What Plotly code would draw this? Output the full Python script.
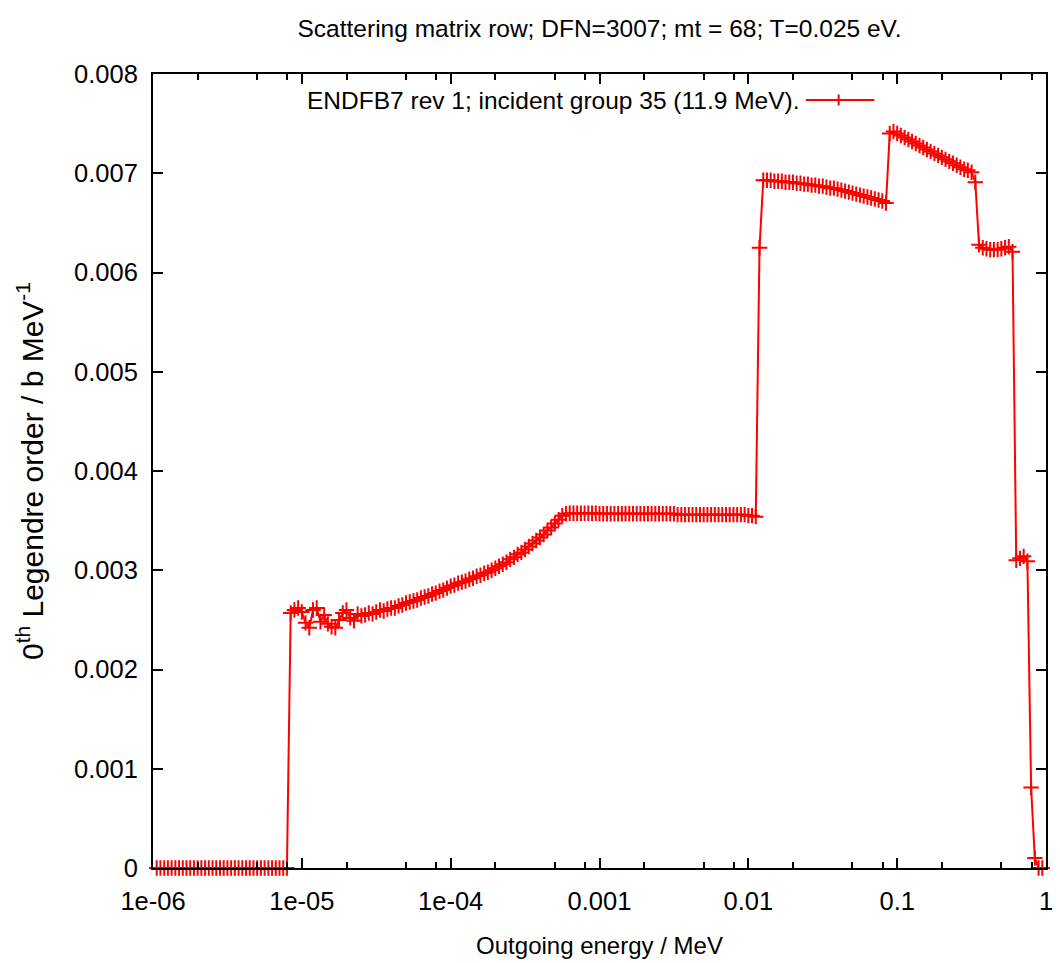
import plotly.graph_objects as go

# Outgoing energy grid (MeV), one list per decade
energy_1e6 = [1.059e-6, 1.122e-6, 1.189e-6, 1.259e-6, 1.334e-6, 1.413e-6, 1.496e-6, 1.585e-6,
              1.679e-6, 1.778e-6, 1.884e-6, 1.995e-6, 2.113e-6, 2.239e-6, 2.371e-6, 2.512e-6,
              2.661e-6, 2.818e-6, 2.985e-6, 3.162e-6, 3.350e-6, 3.548e-6, 3.758e-6, 3.981e-6,
              4.217e-6, 4.467e-6, 4.732e-6, 5.012e-6, 5.309e-6, 5.623e-6, 5.957e-6, 6.310e-6,
              6.683e-6, 7.079e-6, 7.499e-6, 7.943e-6, 8.414e-6, 8.913e-6, 9.441e-6]
energy_1e5 = [1.000e-5, 1.059e-5, 1.122e-5, 1.189e-5, 1.259e-5, 1.334e-5, 1.413e-5, 1.496e-5,
              1.585e-5, 1.679e-5, 1.778e-5, 1.884e-5, 1.995e-5, 2.113e-5, 2.239e-5, 2.371e-5,
              2.512e-5, 2.661e-5, 2.818e-5, 2.985e-5, 3.162e-5, 3.350e-5, 3.548e-5, 3.758e-5,
              3.981e-5, 4.217e-5, 4.467e-5, 4.732e-5, 5.012e-5, 5.309e-5, 5.623e-5, 5.957e-5,
              6.310e-5, 6.683e-5, 7.079e-5, 7.499e-5, 7.943e-5, 8.414e-5, 8.913e-5, 9.441e-5]
energy_1e4 = [1.000e-4, 1.059e-4, 1.122e-4, 1.189e-4, 1.259e-4, 1.334e-4, 1.413e-4, 1.496e-4,
              1.585e-4, 1.679e-4, 1.778e-4, 1.884e-4, 1.995e-4, 2.113e-4, 2.239e-4, 2.371e-4,
              2.512e-4, 2.661e-4, 2.818e-4, 2.985e-4, 3.162e-4, 3.350e-4, 3.548e-4, 3.758e-4,
              3.981e-4, 4.217e-4, 4.467e-4, 4.732e-4, 5.012e-4, 5.309e-4, 5.623e-4, 5.957e-4,
              6.310e-4, 6.683e-4, 7.079e-4, 7.499e-4, 7.943e-4, 8.414e-4, 8.913e-4, 9.441e-4]
energy_1e3 = [1.000e-3, 1.059e-3, 1.122e-3, 1.189e-3, 1.259e-3, 1.334e-3, 1.413e-3, 1.496e-3,
              1.585e-3, 1.679e-3, 1.778e-3, 1.884e-3, 1.995e-3, 2.113e-3, 2.239e-3, 2.371e-3,
              2.512e-3, 2.661e-3, 2.818e-3, 2.985e-3, 3.162e-3, 3.350e-3, 3.548e-3, 3.758e-3,
              3.981e-3, 4.217e-3, 4.467e-3, 4.732e-3, 5.012e-3, 5.309e-3, 5.623e-3, 5.957e-3,
              6.310e-3, 6.683e-3, 7.079e-3, 7.499e-3, 7.943e-3, 8.414e-3, 8.913e-3, 9.441e-3]
energy_1e2 = [1.000e-2, 1.059e-2, 1.122e-2, 1.189e-2, 1.259e-2, 1.334e-2, 1.413e-2, 1.496e-2,
              1.585e-2, 1.679e-2, 1.778e-2, 1.884e-2, 1.995e-2, 2.113e-2, 2.239e-2, 2.371e-2,
              2.512e-2, 2.661e-2, 2.818e-2, 2.985e-2, 3.162e-2, 3.350e-2, 3.548e-2, 3.758e-2,
              3.981e-2, 4.217e-2, 4.467e-2, 4.732e-2, 5.012e-2, 5.309e-2, 5.623e-2, 5.957e-2,
              6.310e-2, 6.683e-2, 7.079e-2, 7.499e-2, 7.943e-2, 8.414e-2, 8.913e-2, 9.441e-2]
energy_1e1 = [0.1000, 0.1059, 0.1122, 0.1189, 0.1259, 0.1334, 0.1413, 0.1496,
              0.1585, 0.1679, 0.1778, 0.1884, 0.1995, 0.2113, 0.2239, 0.2371,
              0.2512, 0.2661, 0.2818, 0.2985, 0.3162, 0.3350, 0.3548, 0.3758,
              0.3981, 0.4217, 0.4467, 0.4732, 0.5012, 0.5309, 0.5623, 0.5957,
              0.6310, 0.6683, 0.7079, 0.7499, 0.7943, 0.8414, 0.8913, 0.9441]

# 0th Legendre moment of the scattering row (b/MeV) at each grid energy
value_1e6 = [0, 0, 0, 0, 0, 0, 0, 0, 0, 0, 0, 0, 0, 0, 0, 0, 0, 0,
             0, 0, 0, 0, 0, 0, 0, 0, 0, 0, 0, 0, 0, 0, 0, 0, 0, 0,
             0.00257, 0.00260, 0.00262]
value_1e5 = [0.00258, 0.00247, 0.00242, 0.00260, 0.00262, 0.00248, 0.00255, 0.00246,
             0.00243, 0.00242, 0.00250, 0.00257, 0.00260, 0.00252, 0.00249, 0.00256,
             0.00254, 0.00255, 0.00257, 0.00256, 0.00258, 0.00260, 0.00259, 0.00261,
             0.00262, 0.00262, 0.00264, 0.00265, 0.00267, 0.00268, 0.00269, 0.00270,
             0.00272, 0.00273, 0.00274, 0.00276, 0.00277, 0.00279, 0.00280, 0.00282]
value_1e4 = [0.00284, 0.00285, 0.00287, 0.00288, 0.00289, 0.00291, 0.00292, 0.00294,
             0.00295, 0.00297, 0.00298, 0.00300, 0.00302, 0.00304, 0.00306, 0.00308,
             0.00311, 0.00313, 0.00316, 0.00318, 0.00321, 0.00324, 0.00327, 0.00330,
             0.00333, 0.00336, 0.00340, 0.00343, 0.00347, 0.00351, 0.00355, 0.00357,
             0.003575, 0.003575, 0.003575, 0.003575, 0.003575, 0.003575, 0.003575, 0.003575]
value_1e3 = [0.00357, 0.00357, 0.00357, 0.00357, 0.00357, 0.00357, 0.00357, 0.00357,
             0.00357, 0.00357, 0.00357, 0.00357, 0.00357, 0.00357, 0.00357, 0.00357,
             0.00357, 0.00357, 0.00357, 0.00357, 0.00357, 0.00356, 0.00356, 0.00356,
             0.00356, 0.00356, 0.00356, 0.00356, 0.00356, 0.00356, 0.00356, 0.00356,
             0.00356, 0.00356, 0.00356, 0.00356, 0.00356, 0.00356, 0.00356, 0.00356]
value_1e2 = [0.00355, 0.00355, 0.00354, 0.00625, 0.00693, 0.00693, 0.00693, 0.00692,
             0.00692, 0.00692, 0.00691, 0.00691, 0.00691, 0.00690, 0.00690, 0.00689,
             0.00689, 0.00688, 0.00688, 0.00687, 0.00687, 0.00686, 0.00685, 0.00685,
             0.00684, 0.00683, 0.00682, 0.00681, 0.00680, 0.00679, 0.00678, 0.00677,
             0.00676, 0.00675, 0.00674, 0.00673, 0.00672, 0.00670, 0.00740, 0.00742]
value_1e1 = [0.00740, 0.00738, 0.00736, 0.00734, 0.00732, 0.00730, 0.00728, 0.00726,
             0.00724, 0.00722, 0.00720, 0.00718, 0.00716, 0.00714, 0.00712, 0.00710,
             0.00708, 0.00706, 0.00704, 0.00703, 0.00701, 0.00691, 0.00628, 0.00625,
             0.00624, 0.00623, 0.00623, 0.00623, 0.00624, 0.00625, 0.00626, 0.00621,
             0.00310, 0.00312, 0.00314, 0.00309, 0.00081, 0.00010, 0.0, 0.0]

energy = energy_1e6 + energy_1e5 + energy_1e4 + energy_1e3 + energy_1e2 + energy_1e1
value = value_1e6 + value_1e5 + value_1e4 + value_1e3 + value_1e2 + value_1e1

x_tick_values = [1e-6, 1e-5, 1e-4, 1e-3, 1e-2, 1e-1, 1]
x_tick_labels = ["1e-06", "1e-05", "1e-04", "0.001", "0.01", "0.1", "1"]
x_minor_values = [2e-6, 5e-6, 8e-6, 2e-5, 5e-5, 8e-5, 2e-4, 5e-4, 8e-4,
                  2e-3, 5e-3, 8e-3, 2e-2, 5e-2, 8e-2, 0.2, 0.5, 0.8]
y_tick_values = [0, 0.001, 0.002, 0.003, 0.004, 0.005, 0.006, 0.007, 0.008]
y_tick_labels = ["0", "0.001", "0.002", "0.003", "0.004", "0.005", "0.006", "0.007", "0.008"]

series_name = "ENDFB7 rev 1; incident group 35 (11.9 MeV)."
title_text = "Scattering matrix row; DFN=3007; mt = 68; T=0.025 eV."

RED = "#ff0000"
FONT = "Liberation Sans, Arial, Helvetica, sans-serif"

W, H = 1060, 963
L, R, T, B = 153, 7, 74, 95

fig = go.Figure()
fig.add_trace(go.Scatter(
    x=energy, y=value, name=series_name, mode="lines+markers",
    line=dict(color=RED, width=2),
    marker=dict(symbol="cross-thin", size=11, color=RED, line=dict(color=RED, width=2)),
    cliponaxis=False, showlegend=False,
))

axis_common = dict(
    showline=True, linecolor="black", linewidth=2, mirror="ticks",
    ticks="inside", tickcolor="black", tickwidth=2, ticklen=10,
    showgrid=False, zeroline=False,
    tickfont=dict(family=FONT, size=25.5, color="black"),
)

fig.update_xaxes(
    type="log", range=[-6, 0], tickmode="array",
    tickvals=x_tick_values, ticktext=x_tick_labels, ticklabelstandoff=9,
    minor=dict(tickmode="array", tickvals=x_minor_values, ticks="inside",
               ticklen=6, tickwidth=2, tickcolor="black", showgrid=False),
    title=dict(text="Outgoing energy / MeV", font=dict(family=FONT, size=24, color="black"),
               standoff=24),
    **axis_common,
)
fig.update_yaxes(
    range=[0, 0.008], tickmode="array",
    tickvals=y_tick_values, ticktext=y_tick_labels, ticklabelstandoff=8,
    title=dict(text="0<sup>th</sup> Legendre order / b MeV<sup>-1</sup>",
               font=dict(family=FONT, size=30, color="black"), standoff=22),
    **axis_common,
)

# key in gnuplot style: label on the left, line sample with marker on the right
key_y = 1 - (100 - T) / (H - T - B)
px = lambda p: (p - L) / (W - L - R)
fig.add_annotation(
    text=series_name, xref="paper", yref="paper", x=px(807), y=key_y,
    xanchor="right", yanchor="middle", showarrow=False,
    font=dict(family=FONT, size=24.5, color="black"),
)
fig.add_shape(type="line", xref="paper", yref="paper",
              x0=px(811), x1=px(880), y0=key_y, y1=key_y,
              line=dict(color=RED, width=2))
fig.add_shape(type="line", xref="paper", yref="paper",
              x0=px(844), x1=px(844), y0=key_y - 5.5 / (H - T - B), y1=key_y + 5.5 / (H - T - B),
              line=dict(color=RED, width=2))

fig.update_layout(
    width=W, height=H,
    margin=dict(l=L, r=R, t=T, b=B),
    paper_bgcolor="white", plot_bgcolor="white",
    title=dict(text=title_text, x=0.5, xref="paper", xanchor="center",
               y=1 - 28 / H, yref="container", yanchor="middle",
               font=dict(family=FONT, size=24.5, color="black")),
)

fig.write_html("out.html")
